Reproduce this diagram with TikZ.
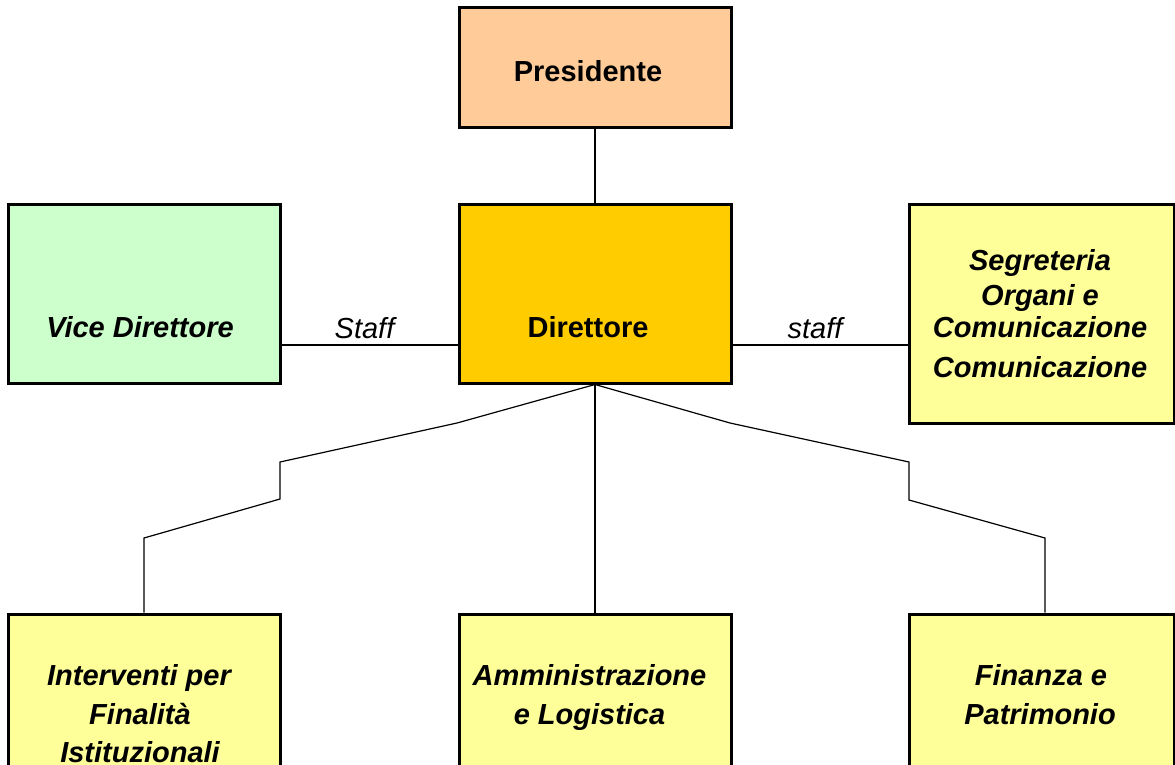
\documentclass[tikz,border=0pt]{standalone}
\usepackage{fontspec}
\setmainfont{Liberation Sans}
\begin{document}
\begin{tikzpicture}[x=1pt,y=-1pt,
  box/.style={draw=black,line width=3pt,rectangle,inner sep=0pt},
  conn/.style={draw=black,line width=1.5pt},
  txt/.style={anchor=base,inner sep=0pt,font=\fontsize{29}{34}\selectfont\bfseries\itshape},
  txtb/.style={anchor=base,inner sep=0pt,font=\fontsize{29}{34}\selectfont\bfseries},
  lbl/.style={anchor=base,inner sep=0pt,font=\fontsize{29}{34}\selectfont\itshape}]
\useasboundingbox (0,0) rectangle (1175,764);
\clip (0,0) rectangle (1175,764);
\definecolor{peach}{HTML}{FFCC99}
\definecolor{gold}{HTML}{FFCC00}
\definecolor{mint}{HTML}{CCFFCC}
\definecolor{pale}{HTML}{FFFF99}
% boxes
\node[box,fill=peach,minimum width=272pt,minimum height=120pt] (pres) at (595,67) {};
\node[box,fill=gold,minimum width=272pt,minimum height=179pt] (dir) at (595,293.5) {};
\node[box,fill=mint,minimum width=272pt,minimum height=179pt] (vice) at (144,293.5) {};
\node[box,fill=pale,minimum width=265pt,minimum height=219pt] (segr) at (1041.5,313.5) {};
\node[box,fill=pale,minimum width=272pt,minimum height=200pt] (interv) at (144,714) {};
\node[box,fill=pale,minimum width=272pt,minimum height=200pt] (ammin) at (595,714) {};
\node[box,fill=pale,minimum width=265pt,minimum height=200pt] (fin) at (1041.5,714) {};
% texts
\node[txtb] (tpres) at (588,81) {Presidente};
\node[txtb] (tdir) at (588,337) {Direttore};
\node[txt] (tvice) at (140,337) {Vice Direttore};
\node[txt] (ts1) at (1040,270) {Segreteria};
\node[txt] (ts2) at (1040,305) {Organi e};
\node[txt] (ts3) at (1040,337) {Comunicazione};
\node[txt] (ts4) at (1040,377) {Comunicazione};
\node[txt] (ti1) at (139,685) {Interventi per};
\node[txt] (ti2) at (140,724) {Finalità};
\node[txt] (ti3) at (140,762) {Istituzionali};
\node[txt] (ta1) at (589.5,685) {Amministrazione};
\node[txt] (ta2) at (589.5,724) {e Logistica};
\node[txt] (tf1) at (1041,685) {Finanza e};
\node[txt] (tf2) at (1040,724) {Patrimonio};
\node[lbl] (lstaff1) at (364.5,338) {Staff};
\node[lbl] (lstaff2) at (815,338) {staff};
% connectors
\draw[conn] (pres.south) -- (dir.north);
\coordinate (v1) at ([yshift=-51.5pt]vice.east);
\coordinate (d1) at ([yshift=-51.5pt]dir.east);
\draw[conn] (v1) -- (v1 -| dir.west);
\draw[conn] (d1) -- (d1 -| segr.west);
\draw[conn] (dir.south) -- (ammin.north);
\draw[conn,line width=1.2pt] (dir.south) -- (457,423) -- (280,462) -- (280,499) -- (144,538) -- (interv.north);
\draw[conn,line width=1.2pt] (dir.south) -- (730,423) -- (909,462) -- (909,500) -- (1045,538) -- (1045,538 |- fin.north);
\end{tikzpicture}
\end{document}
